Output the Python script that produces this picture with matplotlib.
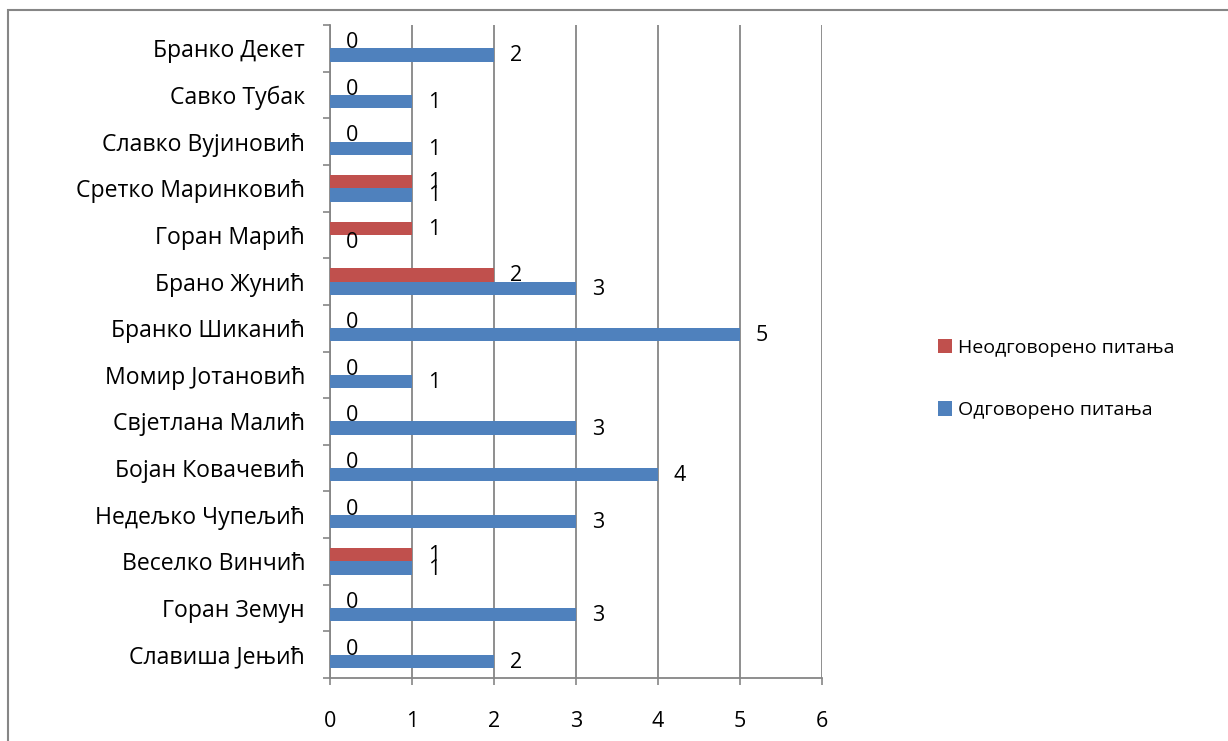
import matplotlib
matplotlib.use("Agg")
import matplotlib.pyplot as plt
from matplotlib.patches import Patch, Rectangle

plt.rcParams['font.family'] = ['Open Sans', 'DejaVu Sans']

# Data (top to bottom as in the chart)
names = ["Бранко Декет", "Савко Тубак", "Славко Вујиновић", "Сретко Маринковић",
         "Горан Марић", "Брано Жунић", "Бранко Шиканић", "Момир Јотановић",
         "Свјетлана Малић", "Бојан Ковачевић", "Недељко Чупељић", "Веселко Винчић",
         "Горан Земун", "Славиша Јењић"]
answered = [2, 1, 1, 1, 0, 3, 5, 1, 3, 4, 3, 1, 3, 2]
unanswered = [0, 0, 0, 1, 1, 2, 0, 0, 0, 0, 0, 1, 0, 0]
series_names = ["Одговорено питања", "Неодговорено питања"]
xticks = [0, 1, 2, 3, 4, 5, 6]

BLUE = "#4F81BD"
RED = "#C0504D"
GRID = "#868686"

W, H = 1228, 741
fig = plt.figure(figsize=(W / 100, H / 100), dpi=100)
ax = fig.add_axes([330 / W, 1 - 678 / H, 492 / W, 653 / H])

n = len(names)
ypos = [n - 1 - i for i in range(n)]
h = 0.285

ax.barh([y - h / 2 for y in ypos], answered, height=h, color=BLUE, zorder=3)
ax.barh([y + h / 2 for y in ypos], unanswered, height=h, color=RED, zorder=3)

fs = 15.5
for y, a, u in zip(ypos, answered, unanswered):
    ax.annotate(str(a), xy=(a, y - h / 2), xytext=(22, -1), textcoords="offset pixels",
                ha="center", va="center", fontsize=fs, zorder=4)
    ax.annotate(str(u), xy=(u, y + h / 2), xytext=(22, -1), textcoords="offset pixels",
                ha="center", va="center", fontsize=fs, zorder=4)

ax.set_xlim(0, 6)
ax.set_ylim(-0.5, n - 0.5)
ax.set_xticks(xticks)
ax.set_xticklabels([str(t) for t in xticks], fontsize=fs)
ax.set_yticks(ypos)
ax.set_yticklabels(names, fontsize=16.6)
ax.set_yticks([k - 0.5 for k in range(n + 1)], minor=True)

ax.tick_params(axis="y", which="major", length=0, pad=18)
ax.tick_params(axis="y", which="minor", length=5, color=GRID, width=1.2, direction="out")
ax.tick_params(axis="x", which="major", length=5, color=GRID, width=1.2, direction="out", pad=19)

ax.grid(axis="x", color=GRID, linewidth=1.3, zorder=1)
ax.set_axisbelow(True)
for s in ["top", "right"]:
    ax.spines[s].set_visible(False)
for s in ["left", "bottom"]:
    ax.spines[s].set_color(GRID)
    ax.spines[s].set_linewidth(1.3)

handles = [Patch(facecolor=RED, edgecolor="none"), Patch(facecolor=BLUE, edgecolor="none")]
fig.legend(handles, [series_names[1], series_names[0]], loc="center left",
           bbox_to_anchor=(920 / W, 1 - 379 / H), frameon=False, fontsize=14,
           handlelength=0.75, handleheight=0.75, handletextpad=0.3, labelspacing=2.3)

# outer chart border (extends beyond image)
fig.patches.append(Rectangle((8 / W, -0.1), 1.2, (1 - 10 / H) + 0.1, transform=fig.transFigure,
                             fill=False, edgecolor=GRID, linewidth=1.5, clip_on=False))

fig.savefig("out.png", dpi=100)
